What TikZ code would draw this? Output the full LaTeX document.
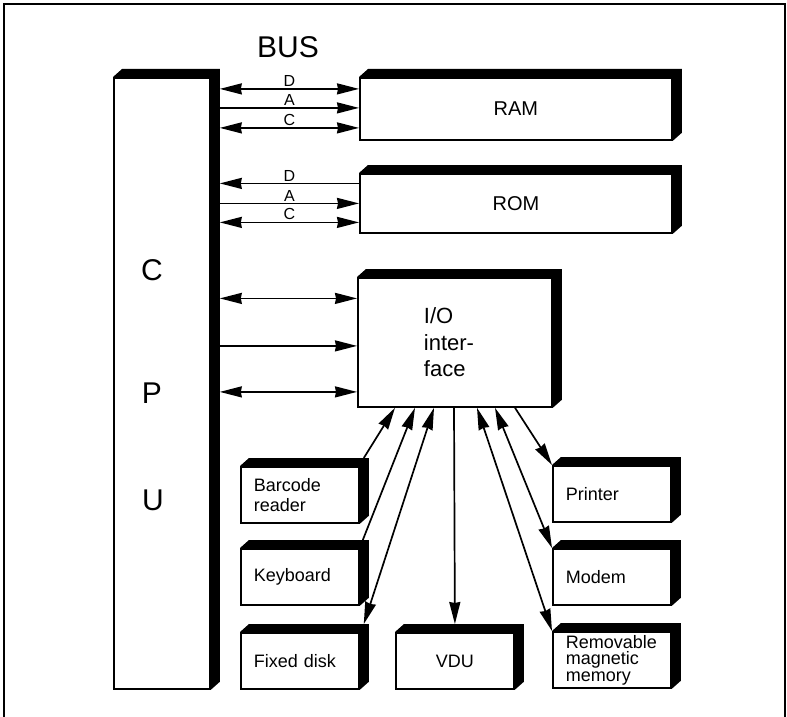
\documentclass[tikz,border=0pt]{standalone}
\usepackage{fontspec}
\setmainfont{Liberation Sans}
\usetikzlibrary{arrows.meta}

% black bevelled side of a block
\newcommand{\blockside}[1]{%
  \fill (#1.north west) -- ++(9,-8) -| ([shift={(9pt,8pt)}]#1.south east)
    -- (#1.south east) |- (#1.north west) -- cycle;}

\tikzset{
  blk/.style={draw, fill=white, line width=1.8pt, inner sep=0pt, anchor=north west},
  dev/.style={blk, minimum width=118pt, minimum height=56pt, text width=92pt,
    inner xsep=13pt, align=left, font=\fontsize{18}{19.5}\selectfont},
  wire/.style={line width=1.7pt},
  sig/.style={inner sep=1.5pt, font=\fontsize{16}{16}\selectfont},
  big/.style={font=\fontsize{30}{30}\selectfont},
}

\begin{document}
\begin{tikzpicture}[x=1pt, y=-1pt, >={Stealth[length=22pt, width=11pt, inset=1pt]}]
  \useasboundingbox (0,0) rectangle (787,717);
  \draw[line width=1.2pt] (4,717) |- (785,4) -- (785,717);
  \node[big] (buslbl) at (288,47) {BUS};

  % processor
  \node[blk, minimum width=96pt, minimum height=611pt] (cpu) at (113,77) {};
  \blockside{cpu}
  \coordinate (bus) at ([xshift=9pt]cpu.east);
  \node[big] (cpuC) at (152,270) {C};
  \node[big] (cpuP) at (152,393) {P};
  \node[big] (cpuU) at (153,500) {U};

  % memories
  \node[blk, minimum width=312pt, minimum height=62pt, font=\fontsize{20}{20}\selectfont] (ram) at (359,77) {RAM};
  \blockside{ram}
  \node[blk, minimum width=312pt, minimum height=59pt, font=\fontsize{20}{20}\selectfont] (rom) at (359,173) {ROM};
  \blockside{rom}
  \node[blk, minimum width=194pt, minimum height=129pt, text width=62pt, inner xsep=66pt,
    align=left, font=\fontsize{22}{26.5}\selectfont] (io) at (357,277) {I/O\\inter-\\face};
  \blockside{io}

  % peripherals
  \node[dev] (bar) at (240,466) {Barcode\\reader};
  \blockside{bar}
  \node[dev] (kbd) at (240,548) {\raisebox{-6pt}{Keyboard}};
  \blockside{kbd}
  \node[dev] (fix) at (240,632) {Fixed disk};
  \blockside{fix}
  \node[dev, align=center] (vdu) at (395,632) {VDU};
  \blockside{vdu}
  \node[dev] (prn) at (552,465) {Printer};
  \blockside{prn}
  \node[dev] (mdm) at (552,548) {\raisebox{-6pt}{Modem}};
  \blockside{mdm}
  \node[dev, font=\fontsize{18}{16.5}\selectfont] (rem) at (552,631) {Removable\\magnetic\\memory};
  \blockside{rem}

  % bus lines
  \draw[wire, <->] ([yshift=20pt]bus |- ram.west) -- ([yshift=20pt]ram.west) node[midway, above, sig] {D};
  \draw[wire, ->] ([yshift=1pt]bus |- ram.west) -- ([yshift=1pt]ram.west) node[midway, above, sig] {A};
  \draw[wire, <->] ([yshift=-19pt]bus |- ram.west) -- ([yshift=-19pt]ram.west) node[midway, above, sig] {C};
  \draw[wire, <-] ([yshift=20pt]bus |- rom.west) -- ([yshift=20pt]rom.west) node[midway, above, sig] {D};
  \draw[wire, ->] (bus |- rom.west) -- (rom.west) node[midway, above, sig] {A};
  \draw[wire, <->] ([yshift=-19pt]bus |- rom.west) -- ([yshift=-19pt]rom.west) node[midway, above, sig] {C};
  \draw[wire, <->] ([yshift=44pt]bus |- io.west) -- ([yshift=44pt]io.west);
  \draw[wire, ->] ([yshift=-3.5pt]bus |- io.west) -- ([yshift=-3.5pt]io.west);
  \draw[wire, <->] ([yshift=-49.5pt]bus |- io.west) -- ([yshift=-49.5pt]io.west);

  % interface to peripherals
  \draw[wire, <-] ([xshift=38pt]io.south west) -- ([shift={(4pt,8pt)}]bar.north east);
  \draw[wire, <-] ([xshift=58pt]io.south west) -- ([shift={(3pt,8pt)}]kbd.north east);
  \draw[wire, <->] ([xshift=77pt]io.south west) -- ([shift={(4pt,8pt)}]fix.north east);
  \draw[wire, ->] ([xshift=97pt]io.south west) -- ([yshift=8pt]vdu.north);
  \draw[wire, <->] ([xshift=120pt]io.south west) -- (rem.north west);
  \draw[wire, <->] ([xshift=138pt]io.south west) -- (mdm.north west);
  \draw[wire, ->] ([xshift=158pt]io.south west) -- (prn.north west);
\end{tikzpicture}
\end{document}
